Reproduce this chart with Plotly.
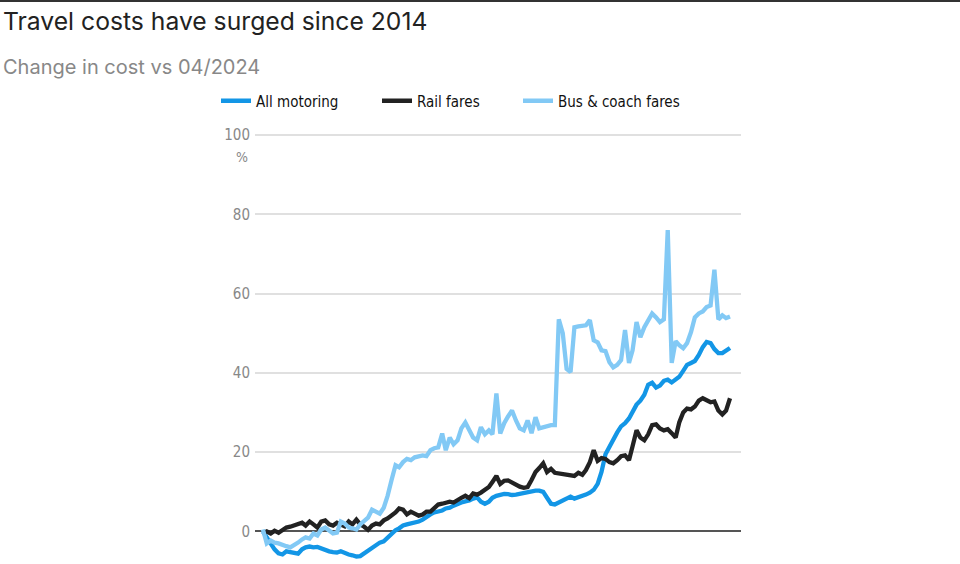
import plotly.graph_objects as go
import pandas as pd

months = pd.date_range("2014-04-01", periods=121, freq="MS")

all_motoring = [
    0, -1.5, -3, -4.5, -5.5, -5.8, -5, -5.2, -5.5, -5.6,
    -4.5, -4, -3.8, -4, -3.9, -4.3, -4.8, -5, -5.2, -5.3,
    -5, -5.5, -5.8, -6, -6.3, -6.2, -5.5, -5, -4, -3.3,
    -2.8, -2.5, -1.5, -0.5, 0.3, 0.8, 1.5, 1.8, 2, 2.3,
    2.5, 3, 3.8, 4.3, 4.8, 5, 5.3, 5.8, 6, 6.5,
    7, 7.3, 7.6, 7.8, 8.3, 8.6, 7.5, 7, 7.5, 8.5,
    9, 9.3, 9.5, 9.4, 9.2, 9.3, 9.5, 9.8, 10, 10.2,
    10.3, 10.3, 10, 8.5, 7, 6.8, 7.3, 7.8, 8.5, 8.8,
    8.3, 8.6, 9, 9.3, 9.8, 10.5, 12, 15, 19.5, 21.5,
    23.5, 25, 26.5, 27.3, 28.5, 30, 32, 33, 34.5, 37,
    37.5, 36.3, 36.8, 38, 38.3, 37.6, 38.2, 39, 40.5, 42,
    42.5, 43, 44.5, 46.5, 47.8, 47.5, 46, 45, 45, 45.5,
    46.3,
]

rail_fares = [
    -0.5, 0, -0.5, 0.2, -0.3, 0.5, 1, 1.2, 1.5, 1.8,
    2.2, 1.5, 2.5, 1.8, 1, 2.5, 2.8, 1.8, 1.5, 2.2,
    1.8, 1.3, 2.5, 1.8, 3, 1.8, 1.2, 0.4, 1.5, 2,
    1.8, 2.8, 3.3, 4, 4.8, 5.8, 5.5, 4.3, 5, 4.5,
    4, 4.3, 5, 5, 6, 6.8, 7, 7.2, 7.5, 7.3,
    8, 8.5, 9, 8.4, 9.6, 9.3, 9.8, 10.5, 11.2, 12.5,
    14, 12, 12.8, 12.9, 12.3, 11.8, 11.3, 11, 11.2, 13,
    15, 16, 17.2, 15, 15.8, 14.8, 14.6, 14.5, 14.3, 14.2,
    14, 14.8, 14.3, 15.5, 17.5, 20.5, 17.8, 18.5, 18.3, 17.5,
    17.2, 18, 19, 19.2, 18, 21.5, 25.5, 23.7, 23, 24.5,
    26.8, 27, 26, 25.5, 25.8, 24.8, 23.7, 27.5, 30, 31,
    30.8, 31.5, 33, 33.6, 33, 32.6, 32.8, 30.5, 29.5, 30.5,
    33.6,
]

bus_coach_fares = [
    0.5, -3, -2.3, -2.8, -3, -3.5, -3.7, -4, -3.5, -2.8,
    -2, -1.5, -1.8, -0.5, -1, 0.5, 1, 0.2, -0.5, -0.3,
    2.5, 2, 1, 0.8, 0.5, 1.8, 2.5, 3.5, 5.5, 5,
    4.5, 6, 9, 13, 16.7, 16.2, 17.5, 18.3, 18, 18.7,
    19, 19.2, 19, 20.5, 21, 21.2, 24.7, 20.5, 23.7, 22,
    23, 26, 27.5, 25.5, 23.7, 23, 26.3, 24.5, 25.5, 24.5,
    34.8, 24.7, 27.3, 29, 30.5, 28, 26, 25.5, 28, 24.8,
    28.8, 26, 26.3, 26.5, 26.8, 26.8, 53.5, 50, 41, 40.2,
    51.5, 51.7, 51.8, 52, 53.3, 48.2, 47.7, 45.7, 45.5, 42.7,
    41.4, 42, 43.2, 50.8, 42.5, 45.7, 52.8, 49, 51.5, 53,
    55, 54, 52.8, 53.5, 76, 42.5, 48, 47, 46.2, 47.5,
    50.3, 54, 55, 55.5, 56.6, 57, 66, 53.5, 54.5, 53.8,
    54.2,
]

series_names = ["All motoring", "Rail fares", "Bus & coach fares"]
series_colors = ["#1396e6", "#222222", "#82c9f5"]
y_ticks = [0, 20, 40, 60, 80, 100]

W, H = 960, 564
L, R, T, B = 255, 741, 133, 564


def px_x(px):
    return (px - L) / (R - L)


def px_y(py):
    return (B - py) / (B - T)


cond = "DejaVu Sans Condensed, Liberation Sans Narrow, Roboto, sans-serif"

fig = go.Figure()
for i, (name, vals, col) in enumerate(zip(series_names, [all_motoring, rail_fares, bus_coach_fares], series_colors)):
    fig.add_trace(go.Scatter(
        x=months, y=vals, name=name, mode="lines",
        line=dict(color=col, width=4.3),
        legend="legend" if i == 0 else f"legend{i+1}",
    ))

legend_x = [216, 377, 518]
legend_common = dict(
    orientation="h", xanchor="left", yanchor="middle", y=px_y(101),
    font=dict(family=cond, size=15, color="#111111"),
    bgcolor="rgba(0,0,0,0)", borderwidth=0, itemwidth=30,
)

fig.update_layout(
    width=W, height=H,
    margin=dict(l=L, r=W - R, t=T, b=H - B, pad=0),
    paper_bgcolor="white", plot_bgcolor="white",
    showlegend=True,
    legend=dict(x=px_x(legend_x[0]), **legend_common),
    legend2=dict(x=px_x(legend_x[1]), **legend_common),
    legend3=dict(x=px_x(legend_x[2]), **legend_common),
    xaxis=dict(
        range=[pd.Timestamp("2014-01-29"), pd.Timestamp("2024-06-26")],
        showgrid=False, showticklabels=False, zeroline=False, showline=False, ticks="",
    ),
    yaxis=dict(
        range=[-8.2, 100.5], tickvals=y_ticks, ticktext=[str(v) for v in y_ticks],
        showgrid=True, gridcolor="#e0e0e0", gridwidth=1.5,
        zeroline=True, zerolinecolor="#555555", zerolinewidth=2,
        showline=False, ticks="", ticklabelstandoff=4,
        tickfont=dict(family=cond, size=15, color="#888888"),
    ),
    shapes=[dict(type="line", xref="paper", yref="paper",
                 x0=px_x(0), x1=px_x(960), y0=px_y(1), y1=px_y(1),
                 line=dict(color="#333333", width=2))],
    annotations=[
        dict(text="Travel costs have surged since 2014", xref="paper", yref="paper",
             x=px_x(1), y=px_y(21), xanchor="left", yanchor="middle", showarrow=False,
             font=dict(family="Inter, Lato, sans-serif", size=24.7, color="#222222")),
        dict(text="Change in cost vs 04/2024", xref="paper", yref="paper",
             x=px_x(1), y=px_y(67), xanchor="left", yanchor="middle", showarrow=False,
             font=dict(family="Inter, Lato, sans-serif", size=20, color="#888888")),
        dict(text="%", xref="paper", yref="paper",
             x=px_x(250), y=px_y(157), xanchor="right", yanchor="middle", showarrow=False,
             font=dict(family=cond, size=14, color="#888888")),
    ],
)

fig.write_html("out.html")
